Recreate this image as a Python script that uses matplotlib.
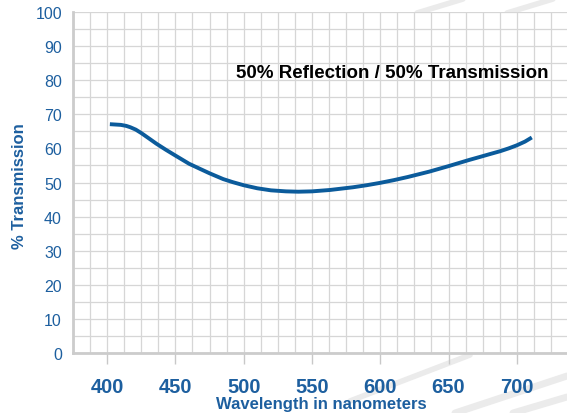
import matplotlib
matplotlib.use("Agg")
import matplotlib.pyplot as plt
from matplotlib.lines import Line2D
import numpy as np

# Data
wavelength = [402, 406, 410, 414, 417, 421, 425, 430, 436, 443, 450, 460, 468, 475, 485, 492,
              500, 510, 520, 531, 540, 550, 563, 580, 590, 600, 610, 620, 636, 650, 665,
              673, 680, 688, 694, 700, 706, 711]
transmission = [67.1, 67.0, 66.9, 66.6, 66.2, 65.5, 64.5, 63.1, 61.4, 59.6, 57.9, 55.5, 54.0, 52.7,
                51.0, 50.1, 49.2, 48.3, 47.7, 47.4, 47.3, 47.4, 47.8, 48.6, 49.2, 49.9, 50.7,
                51.6, 53.2, 54.8, 56.6, 57.5, 58.3, 59.2, 60.0, 60.9, 62.0, 63.2]
x_ticks = [400, 450, 500, 550, 600, 650, 700]
y_ticks = [0, 10, 20, 30, 40, 50, 60, 70, 80, 90, 100]
title_text = "50% Reflection / 50% Transmission"
x_label = "Wavelength in nanometers"
y_label = "% Transmission"

BLUE_TXT = "#1d5f9f"
BLUE_LINE = "#0b5b9b"
GRID = "#d6d6d6"

plt.rcParams['font.family'] = ['Liberation Sans', 'DejaVu Sans']

W, H = 567, 414
fig = plt.figure(figsize=(W / 100, H / 100), dpi=100)
fig.patch.set_facecolor("white")

# decorative swooshes (figure pixel coords, y from top)
def swoosh(p0, p1, lw=5):
    (x0, y0), (x1, y1) = p0, p1
    fig.add_artist(Line2D([x0 / W, x1 / W], [1 - y0 / H, 1 - y1 / H],
                          transform=fig.transFigure, color="#ebebeb",
                          lw=lw, zorder=0, solid_capstyle="round"))

swoosh((350, 402), (470, 356), 4)
swoosh((455, 414), (567, 377), 5)
swoosh((513, 414), (567, 398), 5)
swoosh((417, 14), (463, 0), 4)
swoosh((507, 14), (553, 0), 4)

left, right = 73 / W, 568 / W
bottom, top = 1 - 354 / H, 1 - 13 / H
ax = fig.add_axes([left, bottom, right - left, top - bottom])
ax.set_zorder(1)
ax.patch.set_facecolor("white")

ax.set_xlim(375, 737.5)
ax.set_ylim(0, 100)

ax.set_xticks(x_ticks)
ax.set_xticklabels([str(v) for v in x_ticks], fontsize=14.5, fontweight="bold", color=BLUE_TXT)
ax.set_yticks(y_ticks)
ax.set_yticklabels([str(v) for v in y_ticks], fontsize=11.5, color=BLUE_TXT)
ax.set_xticks(np.arange(375, 740, 12.5), minor=True)
ax.set_yticks(np.arange(0, 101, 5), minor=True)

ax.grid(which="both", color=GRID, lw=0.9)
ax.set_axisbelow(True)
ax.tick_params(axis="x", which="major", length=8, width=1, color="#c8c8c8", pad=9)
ax.tick_params(axis="x", which="minor", length=0)
ax.tick_params(axis="y", which="both", length=0, pad=8)

for s in ["top", "right"]:
    ax.spines[s].set_visible(False)
for s in ["left", "bottom"]:
    ax.spines[s].set_color("#cccccc")
    ax.spines[s].set_linewidth(2)

ax.plot(wavelength, transmission, color=BLUE_LINE, lw=2.8, solid_capstyle="butt",
        solid_joinstyle="round", zorder=3)

fig.text(548 / W, 1 - 73 / H, title_text, ha="right", va="center",
         fontsize=13.5, fontweight="bold", color="black", zorder=5)

fig.text(321 / W, 1 - 405 / H, x_label, ha="center", va="center",
         fontsize=12, fontweight="bold", color=BLUE_TXT)
fig.text(20 / W, 1 - 186 / H, y_label, ha="center", va="center", rotation=90,
         fontsize=12, fontweight="bold", color=BLUE_TXT)

fig.savefig("out.png", dpi=100, facecolor="white")
